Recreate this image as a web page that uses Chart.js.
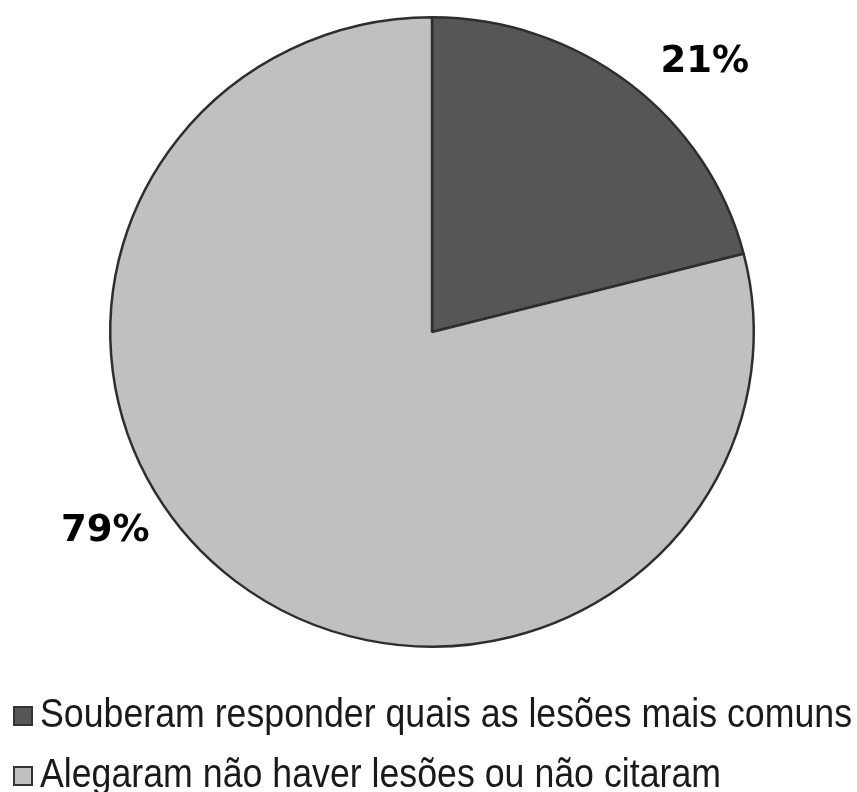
<!DOCTYPE html>
<html>
<head>
<meta charset="utf-8">
<script src="https://cdn.jsdelivr.net/npm/chart.js@4/dist/chart.umd.min.js"></script>
<style>
  html, body { margin: 0; padding: 0; background: #ffffff; }
  #pieChart { display: block; }
</style>
</head>
<body>
<canvas id="pieChart" width="857" height="792"></canvas>
<script>
// chart data
const categories = [
  'Souberam responder quais as lesões mais comuns',
  'Alegaram não haver lesões ou não citaram'
];
const percentages = [21, 79];
const valueLabels = ['21%', '79%'];
const sliceColors = ['#565656', '#c0c0c0'];

// the source picture is a little squashed vertically, so squash the pie too
const squashPie = {
  id: 'squashPie',
  beforeDatasetsDraw(chart, args, opts) {
    const ctx = chart.ctx;
    const cy = (chart.chartArea.top + chart.chartArea.bottom) / 2;
    ctx.save();
    ctx.translate(0, cy);
    ctx.scale(1, opts.ratio);
    ctx.translate(0, -cy);
  },
  afterDatasetsDraw(chart) {
    chart.ctx.restore();
  }
};

// percent labels sit outside the pie (angle shift in degrees, gap past the rim)
const percentLabels = {
  id: 'percentLabels',
  afterDraw(chart, args, opts) {
    const ctx = chart.ctx;
    const arcs = chart.getDatasetMeta(0).data;
    ctx.save();
    ctx.font = 'bold 37px "DejaVu Sans"';
    ctx.fillStyle = '#000';
    ctx.textAlign = 'center';
    ctx.textBaseline = 'middle';
    arcs.forEach((arc, i) => {
      const p = arc.getProps(['x', 'y', 'startAngle', 'endAngle', 'outerRadius'], true);
      const a = (p.startAngle + p.endAngle) / 2 + opts.shift[i] * Math.PI / 180;
      const r = p.outerRadius + opts.gap[i];
      ctx.fillText(valueLabels[i], p.x + Math.cos(a) * r, p.y + Math.sin(a) * r);
    });
    ctx.restore();
  }
};

// Excel-like legend: stacked rows, left aligned, condensed text
const stackedLegend = {
  id: 'stackedLegend',
  afterDraw(chart, args, opts) {
    const ctx = chart.ctx;
    ctx.save();
    ctx.font = '40px "Liberation Sans"';
    ctx.textBaseline = 'alphabetic';
    const natural = ctx.measureText(categories[0]).width;
    const sx = opts.textWidth / natural;
    categories.forEach((label, i) => {
      const y = opts.top + i * opts.rowGap;
      ctx.fillStyle = sliceColors[i];
      ctx.strokeStyle = '#333';
      ctx.lineWidth = 2;
      ctx.fillRect(opts.left, y, opts.box, opts.box);
      ctx.strokeRect(opts.left, y, opts.box, opts.box);
      ctx.save();
      ctx.translate(opts.left + opts.box + 8, y + opts.box + 2);
      ctx.scale(sx, 1);
      ctx.fillStyle = '#1a1a1a';
      ctx.fillText(label, 0, 0);
      ctx.restore();
    });
    ctx.restore();
  }
};

new Chart(document.getElementById('pieChart').getContext('2d'), {
  type: 'pie',
  data: {
    labels: categories,
    datasets: [{
      data: percentages,
      backgroundColor: sliceColors,
      borderColor: '#2e2e2e',
      borderWidth: 2.5
    }]
  },
  options: {
    responsive: false,
    animation: false,
    layout: { padding: { top: 9, bottom: 137, left: 109, right: 102 } },
    plugins: {
      legend: { display: false },
      tooltip: { enabled: false },
      squashPie: { ratio: 0.978 },
      percentLabels: { shift: [7.5, 20.8], gap: [62, 61] },
      stackedLegend: { left: 14, top: 707, box: 18, rowGap: 60, textWidth: 812 }
    }
  },
  plugins: [squashPie, percentLabels, stackedLegend]
});
</script>
</body>
</html>
